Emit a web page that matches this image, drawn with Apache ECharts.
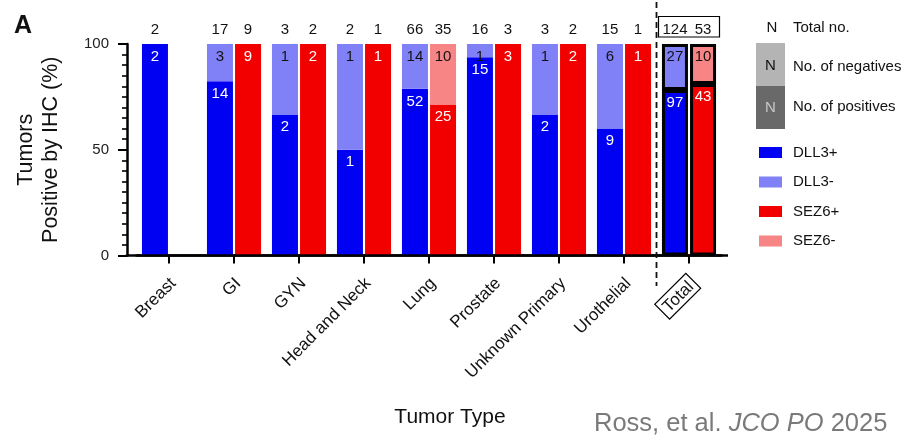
<!DOCTYPE html>
<html>
<head>
<meta charset="utf-8">
<script src="https://cdn.jsdelivr.net/npm/echarts@6/dist/echarts.min.js"></script>
<style>
  html, body { margin: 0; padding: 0; background: #fff; }
  #chart { width: 906px; height: 438px; }
</style>
</head>
<body>
<div id="chart"></div>
<script>
// Tumor types and IHC counts (positive / negative) for each marker
const categories = ['Breast', 'GI', 'GYN', 'Head and Neck', 'Lung', 'Prostate', 'Unknown Primary', 'Urothelial', 'Total'];
const dll3Positive = [2, 14, 2, 1, 52, 15, 2, 9, 97];
const dll3Negative = [0, 3, 1, 1, 14, 1, 1, 6, 27];
const sez6Positive = [null, 9, 2, 1, 25, 3, 2, 1, 43];
const sez6Negative = [null, 0, 0, 0, 10, 0, 0, 0, 10];
const yTickLabels = [0, 50, 100];

const COLORS = { dll3Pos: '#0000f2', dll3Neg: '#8080f7', sez6Pos: '#f20000', sez6Neg: '#f78585' };
const FONT = '"Liberation Sans", Arial, Helvetica, sans-serif';
const TOTAL = 'Total';
const BAR_W = 26;

function totalAt(pos, neg, i) {
  return pos[i] == null ? null : pos[i] + neg[i];
}

// One stacked segment series: height is the percentage of tumors, label is the count
function segmentSeries(name, stack, color, counts, pos, neg, labelColor) {
  return {
    name, type: 'bar', stack, barWidth: BAR_W, barGap: '8%',
    itemStyle: { color },
    data: categories.map((c, i) => {
      if (counts[i] == null) return '-';
      const item = { value: counts[i] / totalAt(pos, neg, i) * 100, count: counts[i] };
      if (c === TOTAL) item.itemStyle = { borderColor: '#000', borderWidth: 3 };
      return item;
    }),
    label: {
      show: true, position: 'insideTop', distance: 5, color: labelColor,
      fontSize: 15, fontFamily: FONT,
      formatter: p => (p.data && p.data.count > 0 ? String(p.data.count) : '')
    },
    emphasis: { disabled: true }
  };
}

// Zero-height cap on each stack that carries the total number of tumors above the bar
function totalSeries(stack, pos, neg) {
  return {
    name: stack + ' total', type: 'bar', stack, barWidth: BAR_W, barGap: '8%',
    itemStyle: { color: 'rgba(0,0,0,0)' },
    data: categories.map((c, i) => (pos[i] == null ? '-' : { value: 0, count: totalAt(pos, neg, i) })),
    label: {
      show: true, position: 'top', distance: 7, color: '#111',
      fontSize: 15, fontFamily: FONT,
      formatter: p => String(p.data.count)
    },
    silent: true,
    emphasis: { disabled: true }
  };
}

const GRID = { left: 136.5, top: 44, width: 585, height: 211.5 };

const chart = echarts.init(document.getElementById('chart'), null, { renderer: 'canvas' });

chart.setOption({
  animation: false,
  backgroundColor: '#fff',
  textStyle: { fontFamily: FONT },
  title: {
    text: 'A', left: 9, top: 9,
    textStyle: { fontSize: 25, fontWeight: 'bold', color: '#111', fontFamily: FONT }
  },
  grid: GRID,
  legend: {
    data: ['DLL3+', 'DLL3-', 'SEZ6+', 'SEZ6-'],
    orient: 'vertical', left: 754, top: 139,
    icon: 'rect', itemWidth: 23, itemHeight: 11, itemGap: 12.5,
    selectedMode: false,
    textStyle: { fontSize: 15, color: '#111', lineHeight: 17, padding: [0, 0, 0, 6], fontFamily: FONT }
  },
  xAxis: {
    type: 'category', data: categories,
    axisLine: { show: true, lineStyle: { color: '#000', width: 2.5 } },
    axisTick: { show: true, alignWithLabel: true, length: 8, lineStyle: { color: '#000', width: 2 } },
    axisLabel: {
      interval: 0, rotate: 45, margin: 21, align: 'right', verticalAlign: 'middle',
      padding: [12, 0, 0, 0],
      fontSize: 17, color: '#111', fontFamily: FONT,
      formatter: v => (v === TOTAL ? '{box|' + v + '}' : v),
      rich: {
        box: { fontSize: 17, color: '#111', fontFamily: FONT, borderColor: '#000', borderWidth: 1.2, padding: [3, 4, 1, 4] }
      }
    },
    name: 'Tumor Type', nameLocation: 'middle', nameGap: 151,
    nameTextStyle: { fontSize: 21, color: '#111', padding: [0, 0, 0, 42], fontFamily: FONT }
  },
  yAxis: {
    type: 'value', min: 0, max: 100, interval: 50, offset: 9.5,
    axisLine: { show: true, lineStyle: { color: '#000', width: 2.5 } },
    axisTick: { show: true, length: 9, lineStyle: { color: '#000', width: 2 } },
    minorTick: { show: true, splitNumber: 10, length: 5, lineStyle: { color: '#000', width: 1.6 } },
    splitLine: { show: false },
    axisLabel: {
      margin: 18, fontSize: 15, color: '#222', fontFamily: FONT,
      customValues: yTickLabels
    },
    name: 'Tumors\nPositive by IHC (%)', nameLocation: 'middle', nameRotate: 90, nameGap: 63,
    nameTextStyle: { fontSize: 21.5, lineHeight: 25, color: '#111', fontFamily: FONT }
  },
  series: [
    segmentSeries('DLL3+', 'dll3', COLORS.dll3Pos, dll3Positive, dll3Positive, dll3Negative, '#fff'),
    segmentSeries('DLL3-', 'dll3', COLORS.dll3Neg, dll3Negative, dll3Positive, dll3Negative, '#111'),
    totalSeries('dll3', dll3Positive, dll3Negative),
    segmentSeries('SEZ6+', 'sez6', COLORS.sez6Pos, sez6Positive, sez6Positive, sez6Negative, '#fff'),
    segmentSeries('SEZ6-', 'sez6', COLORS.sez6Neg, sez6Negative, sez6Positive, sez6Negative, '#111'),
    totalSeries('sez6', sez6Positive, sez6Negative)
  ]
});

// Decorations positioned from the axes: full-width baseline, Total separator, Total counts box, key
const xOf = c => chart.convertToPixel({ xAxisIndex: 0 }, c);
const yOf = v => chart.convertToPixel({ yAxisIndex: 0 }, v);
const baseY = yOf(0);
const sepX = (xOf('Urothelial') + xOf(TOTAL)) / 2;
const totX = xOf(TOTAL);

const keyLeft = 756, keyText = 793;
const keyFont = '15px ' + FONT;
chart.setOption({
  graphic: [
    { type: 'line', shape: { x1: GRID.left - 9.5 - 1.2, y1: baseY, x2: GRID.left + GRID.width + 6.5, y2: baseY },
      style: { stroke: '#000', lineWidth: 2.5 }, z: 10 },
    { type: 'line', shape: { x1: sepX, y1: 2, x2: sepX, y2: 286 },
      style: { stroke: '#111', lineWidth: 1.8, lineDash: [6, 4] }, z: 10 },
    { type: 'rect', shape: { x: totX - 30.5, y: 16.5, width: 61, height: 20.5 },
      style: { fill: 'none', stroke: '#000', lineWidth: 1.2 }, z: 10 },

    { type: 'text', x: keyLeft + 16, y: 28, style: { text: 'N', fill: '#111', font: keyFont, align: 'center', verticalAlign: 'middle' } },
    { type: 'text', x: keyText, y: 28, style: { text: 'Total no.', fill: '#111', font: keyFont, verticalAlign: 'middle' } },
    { type: 'rect', shape: { x: keyLeft, y: 43, width: 29, height: 43 }, style: { fill: '#b4b4b4' } },
    { type: 'rect', shape: { x: keyLeft, y: 86, width: 29, height: 43 }, style: { fill: '#696969' } },
    { type: 'text', x: keyLeft + 14.5, y: 66, style: { text: 'N', fill: '#111', font: keyFont, align: 'center', verticalAlign: 'middle' } },
    { type: 'text', x: keyLeft + 14.5, y: 108, style: { text: 'N', fill: '#c8c8c8', font: keyFont, align: 'center', verticalAlign: 'middle' } },
    { type: 'text', x: keyText, y: 67, style: { text: 'No. of negatives', fill: '#111', font: keyFont, verticalAlign: 'middle' } },
    { type: 'text', x: keyText, y: 107, style: { text: 'No. of positives', fill: '#111', font: keyFont, verticalAlign: 'middle' } },

    { type: 'text', x: 594, y: 424,
      style: {
        text: '{n|Ross, et al. }{i|JCO PO}{n| 2025}', verticalAlign: 'middle',
        rich: {
          n: { fontSize: 25.5, fill: '#7a7a7a', fontFamily: FONT },
          i: { fontSize: 25.5, fill: '#7a7a7a', fontStyle: 'italic', fontFamily: FONT }
        }
      } }
  ]
});
</script>
</body>
</html>
